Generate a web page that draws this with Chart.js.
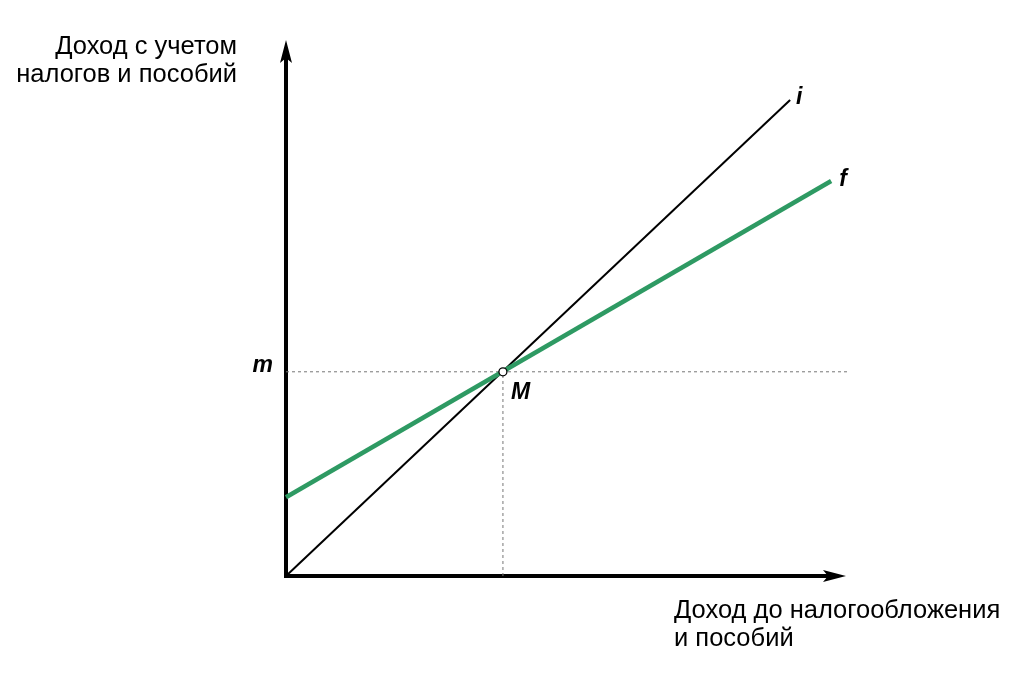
<!DOCTYPE html>
<html>
<head>
<meta charset="utf-8">
<script src="https://cdn.jsdelivr.net/npm/chart.js@4"></script>
<style>
  html, body { margin: 0; padding: 0; background: #fff; }
  #wrap { width: 1024px; height: 682px; }
</style>
</head>
<body>
<div id="wrap"><canvas id="chart" width="1024" height="682"></canvas></div>
<script>
// line i (45 degree line) and line f (after taxes and benefits)
const iX = [0, 8.97];
const iY = [0, 8.88];
const fX = [0, 9.7];
const fY = [1.47, 7.37];
// intersection point M and its level m
const pointM = [3.86, 3.81];
const xMax = 10;
const yMax = 10;

const yTitle = ["Доход с учетом", "налогов и пособий"];
const xTitle = ["Доход до налогообложения", "и пособий"];

const toPts = (xs, ys) => xs.map((x, k) => ({ x, y: ys[k] }));

const arrow = (c, x, y, dir) => {
  c.beginPath();
  if (dir === "up") {
    c.moveTo(x, y);
    c.lineTo(x - 6, y + 23);
    c.lineTo(x, y + 18);
    c.lineTo(x + 6, y + 23);
  } else {
    c.moveTo(x, y);
    c.lineTo(x - 23, y - 6);
    c.lineTo(x - 18, y);
    c.lineTo(x - 23, y + 6);
  }
  c.closePath();
  c.fill();
};

const decor = {
  id: "decor",
  beforeDatasetsDraw(chart) {
    const c = chart.ctx;
    const { x, y } = chart.scales;
    const ox = x.getPixelForValue(0), oy = y.getPixelForValue(0);
    c.save();
    c.strokeStyle = "#000";
    c.fillStyle = "#000";
    c.lineWidth = 4;
    c.beginPath();
    c.moveTo(ox, oy + 2);
    c.lineTo(ox, 58);
    c.moveTo(ox - 2, oy);
    c.lineTo(828, oy);
    c.stroke();
    arrow(c, ox, 40, "up");
    arrow(c, 846, oy, "right");
    c.restore();
  },
  afterDatasetsDraw(chart) {
    const c = chart.ctx;
    const { x, y } = chart.scales;
    c.save();
    c.fillStyle = "#000";
    c.font = "25.5px 'Liberation Sans', Arial, sans-serif";
    c.textBaseline = "middle";
    c.textAlign = "right";
    c.fillText(yTitle[0], 237, 47);
    c.fillText(yTitle[1], 237, 75);
    c.textAlign = "left";
    c.fillText(xTitle[0], 674, 611);
    c.fillText(xTitle[1], 674, 639);

    c.font = "italic bold 23px 'Liberation Sans', Arial, sans-serif";
    c.textAlign = "left";
    c.fillText("i", x.getPixelForValue(iX[1]) + 6, y.getPixelForValue(iY[1]) - 2);
    c.fillText("f", x.getPixelForValue(fX[1]) + 8, y.getPixelForValue(fY[1]) - 1);
    c.fillText("M", x.getPixelForValue(pointM[0]) + 8, y.getPixelForValue(pointM[1]) + 21);
    c.textAlign = "right";
    c.fillText("m", x.getPixelForValue(0) - 13, y.getPixelForValue(pointM[1]) - 6);
    c.restore();
  }
};

new Chart(document.getElementById("chart"), {
  type: "scatter",
  data: {
    datasets: [
      {
        data: toPts([0, xMax], [pointM[1], pointM[1]]),
        showLine: true,
        borderColor: "#777",
        borderWidth: 1,
        borderDash: [3, 3],
        pointRadius: 0,
        order: 4
      },
      {
        data: toPts([pointM[0], pointM[0]], [0, pointM[1]]),
        showLine: true,
        borderColor: "#777",
        borderWidth: 1,
        borderDash: [3, 3],
        pointRadius: 0,
        order: 4
      },
      {
        data: toPts(iX, iY),
        showLine: true,
        borderColor: "#000",
        borderWidth: 2,
        pointRadius: 0,
        order: 3
      },
      {
        data: toPts(fX, fY),
        showLine: true,
        borderColor: "#2e9a63",
        borderWidth: 4.5,
        pointRadius: 0,
        order: 2
      },
      {
        data: [{ x: pointM[0], y: pointM[1] }],
        pointRadius: 4,
        pointBackgroundColor: "#fff",
        pointBorderColor: "#000",
        pointBorderWidth: 1.3,
        order: 1
      }
    ]
  },
  options: {
    responsive: false,
    animation: false,
    layout: { padding: { left: 286, right: 176, top: 40, bottom: 106 } },
    datasets: { scatter: { clip: false } },
    plugins: { legend: { display: false }, tooltip: { enabled: false } },
    scales: {
      x: { type: "linear", min: 0, max: xMax, display: false },
      y: { type: "linear", min: 0, max: yMax, display: false }
    }
  },
  plugins: [decor]
});
</script>
</body>
</html>
